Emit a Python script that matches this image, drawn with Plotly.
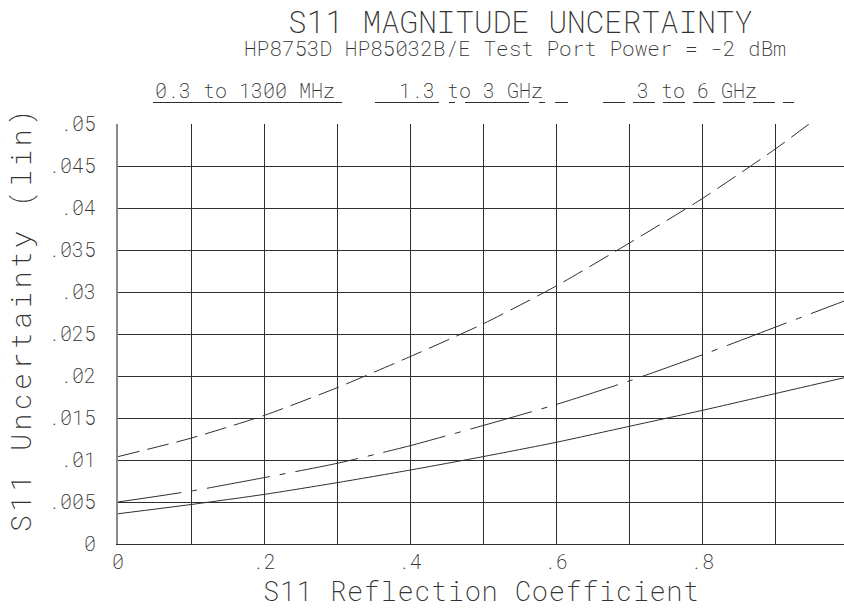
import plotly.graph_objects as go

# S11 reflection coefficient (x) and magnitude uncertainty (linear) per band
reflection = [0.0, 0.1, 0.2, 0.3, 0.4, 0.5, 0.6, 0.7, 0.8, 0.9, 1.0]
unc_low_band = [0.0036, 0.0047, 0.0059, 0.0073, 0.0088, 0.0104, 0.0121, 0.0140, 0.0159, 0.0179, 0.0199]
unc_mid_band = [0.0050, 0.0063, 0.0079, 0.0096, 0.0117, 0.0141, 0.0166, 0.0194, 0.0225, 0.0258, 0.0291]
unc_high_band = [0.0104, 0.0126, 0.0153, 0.0186, 0.0223, 0.0262, 0.0307, 0.0358, 0.0411, 0.0470, 0.0535]

band_names = ["0.3 to 1300 MHz", "1.3 to 3 GHz", "3 to 6 GHz"]

x_tickvals = [0, 0.2, 0.4, 0.6, 0.8]
x_ticktext = ["0", ".2", ".4", ".6", ".8"]
y_tickvals = [0, 0.005, 0.01, 0.015, 0.02, 0.025, 0.03, 0.035, 0.04, 0.045, 0.05]
y_ticktext = ["0", ".005", ".01", ".015", ".02", ".025", ".03", ".035", ".04", ".045", ".05"]

W, H = 844, 608
ML, MR, MT, MB = 118, 0, 124, 64
PW, PH = W - ML - MR, H - MT - MB

FONT = "Roboto Mono"
WT = 200
TXT = "#333333"
INK = "#2e2e2e"

DASHDOT = "64px,10px,6px,10px"
DASHED = "22px,8px"
styles = ["solid", DASHDOT, DASHED]


def px_x(px):
    return (px - ML) / PW


def px_y(py):
    return (H - MB - py) / PH


def tfont(size):
    return dict(family=FONT, size=size, color=TXT, weight=WT)


fig = go.Figure()
for ys, dash in zip([unc_low_band, unc_mid_band, unc_high_band], styles):
    fig.add_trace(go.Scatter(
        x=reflection, y=ys, mode="lines",
        line=dict(color=INK, width=1, dash=dash, shape="spline", smoothing=0.6),
        showlegend=False, hoverinfo="skip",
    ))

# Band key: label text underlined with the matching line style
key_text_x = [245, 471, 697]
key_line = [(153, 342), (375, 568), (603, 794)]
for name, cx, (x0, x1), dash in zip(band_names, key_text_x, key_line, styles):
    fig.add_annotation(
        x=px_x(cx), y=px_y(90), xref="paper", yref="paper",
        text=name, showarrow=False, xanchor="center", yanchor="middle",
        font=tfont(20),
    )
    fig.add_shape(
        type="line", xref="paper", yref="paper",
        x0=px_x(x0), x1=px_x(x1), y0=px_y(102.5), y1=px_y(102.5),
        line=dict(color=INK, width=1, dash=dash),
    )

# Titles
fig.add_annotation(
    x=px_x(520), y=px_y(20.5), xref="paper", yref="paper",
    text="S11 MAGNITUDE UNCERTAINTY", showarrow=False,
    xanchor="center", yanchor="middle", font=tfont(31),
)
fig.add_annotation(
    x=px_x(515), y=px_y(48.5), xref="paper", yref="paper",
    text="HP8753D HP85032B/E Test Port Power = -2 dBm", showarrow=False,
    xanchor="center", yanchor="middle", font=tfont(21),
)
fig.add_annotation(
    x=px_x(481), y=px_y(590.5), xref="paper", yref="paper",
    text='<span style="letter-spacing:0.6px">S11 Reflection Coefficient</span>',
    showarrow=False, xanchor="center", yanchor="middle", font=tfont(27),
)
fig.add_annotation(
    x=px_x(20), y=px_y(319), xref="paper", yref="paper",
    text='<span style="letter-spacing:3.5px">S11 Uncertainty (lin)</span>',
    showarrow=False, textangle=-90, xanchor="center", yanchor="middle",
    font=tfont(28),
)

fig.update_layout(
    width=W, height=H,
    margin=dict(l=ML, r=MR, t=MT, b=MB, pad=0),
    paper_bgcolor="white", plot_bgcolor="white",
    xaxis=dict(
        range=[0, PW / 730], tickvals=x_tickvals, ticktext=x_ticktext,
        showgrid=True, gridcolor=INK, gridwidth=1,
        minor=dict(dtick=0.1, showgrid=True, gridcolor=INK, gridwidth=1),
        zeroline=False, showline=True, linecolor=INK, linewidth=1,
        ticks="", ticklabelstandoff=0,
        tickfont=tfont(20),
    ),
    yaxis=dict(
        range=[0, 0.05], tickvals=y_tickvals, ticktext=y_ticktext,
        showgrid=True, gridcolor=INK, gridwidth=1,
        zeroline=False, showline=True, linecolor="#8a8a8a", linewidth=2,
        ticks="", ticklabelstandoff=16,
        tickfont=tfont(20),
    ),
)

fig.write_html("out.html")
